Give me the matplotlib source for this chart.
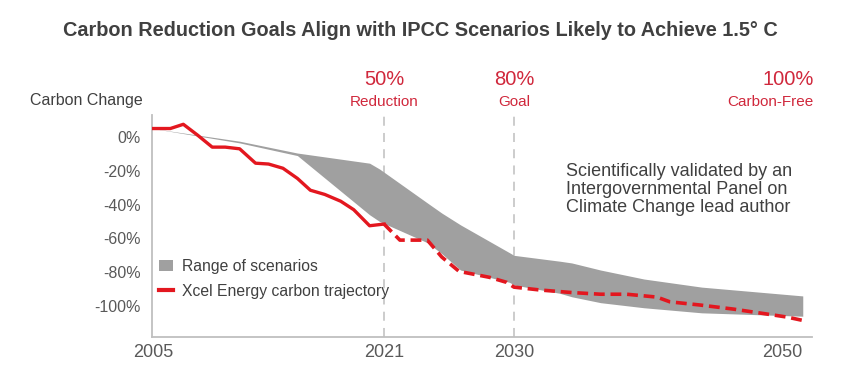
import numpy as np
import matplotlib.pyplot as plt
from matplotlib.patches import Patch
from matplotlib.lines import Line2D

plt.rcParams['font.family'] = ['Liberation Sans', 'DejaVu Sans']

# Xcel trajectory, actuals (solid) then plan (dashed), % change vs 2005
hist_years = [2005, 2006.2, 2007.1, 2008.1, 2009.1, 2010, 2011, 2012.1, 2013, 2014,
              2015, 2015.9, 2016.9, 2018, 2018.9, 2020, 2021]
hist_vals = [5, 5, 7.5, 1, -6, -6, -7, -15.5, -16, -18.5,
             -24.5, -31.5, -34, -38, -43, -52.5, -51.5]
plan_years = [2021, 2022.1, 2024, 2025, 2026.2, 2028.3, 2029.5, 2030, 2031.8, 2034,
              2036, 2037.8, 2039.9, 2040.8, 2042.9, 2045.2, 2047.5, 2048.9, 2050]
plan_vals = [-51.5, -61, -61, -71, -79.5, -83, -86, -88.8, -90.5, -92,
             -93, -93, -94.7, -97.5, -99.4, -101.8, -104.7, -106.5, -108.5]

# IPCC scenario range
band_years = [2005, 2011, 2015, 2020, 2020.7, 2024, 2025, 2026.3, 2029.7, 2030, 2033.2,
              2034, 2036, 2039, 2043, 2050]
band_upper = [5, -2.5, -9.5, -15.5, -19, -39, -45, -52, -68.5, -70, -73.5,
              -74.5, -78.7, -84, -88.8, -94]
band_lower = [5, -3.5, -11, -46, -50, -62.5, -69, -78.7, -86, -87.5, -92.5,
              -94.5, -98, -101, -104, -106]

ytick_vals = [0, -20, -40, -60, -80, -100]
xtick_vals = [2005, 2021, 2030, 2050]
milestones = [(2021, '50%', 'Reduction'), (2030, '80%', 'Goal'), (2050, '100%', 'Carbon-Free')]

red = '#e3171f'
label_red = '#d0283c'
band_gray = '#a0a0a0'
text_gray = '#595959'
dark = '#404040'

fig = plt.figure(figsize=(8.41, 3.89), dpi=100)
ax = fig.add_axes([152 / 841, 52 / 389, 660 / 841, 222 / 389])

ax.fill_between(band_years, band_upper, band_lower, color=band_gray, lw=0, zorder=1)
ax.plot(hist_years, hist_vals, color=red, lw=2.4, zorder=3)
ax.plot(plan_years, plan_vals, color=red, lw=2.6, ls=(0, (3, 1.6)), zorder=3)

for yr in [2021, 2030]:
    ax.axvline(yr, color='#c8c8c8', lw=1.3, ls=(0, (5, 4)), zorder=0)

ax.set_xlim(2004.93, 2050.64)
ax.set_ylim(-118.3, 13)

for s in ['top', 'right']:
    ax.spines[s].set_visible(False)
for s in ['left', 'bottom']:
    ax.spines[s].set_color('#bfbfbf')
    ax.spines[s].set_linewidth(1.3)

ax.set_yticks(ytick_vals)
ax.set_yticklabels([f'{v}%' for v in ytick_vals])
ax.set_xticks(xtick_vals)
ax.set_xticklabels([str(v) for v in xtick_vals])
ax.tick_params(length=0, labelcolor=text_gray)
ax.tick_params(axis='y', pad=8, labelsize=11.5)
ax.tick_params(axis='x', pad=5, labelsize=13)
ax.get_xticklabels()[-1].set_ha('right')
ax.get_xticklabels()[-1].set_x(2050.3)

fig.text(143 / 841, 1 - 101 / 389, 'Carbon Change', fontsize=11.5, color=dark,
         ha='right', va='center')

for yr, pct, word in milestones:
    ha = 'right' if yr == 2050 else 'center'
    x = 2050.75 if yr == 2050 else yr
    ax.text(x, 1.158, pct, transform=ax.get_xaxis_transform(), ha=ha, va='center',
            fontsize=14.5, color=label_red, clip_on=False)
    ax.text(x, 1.059, word, transform=ax.get_xaxis_transform(), ha=ha, va='center',
            fontsize=11, color=label_red, clip_on=False)

ax.text(2033.6, -31, 'Scientifically validated by an\nIntergovernmental Panel on\nClimate Change lead author',
        fontsize=13, color=dark, ha='left', va='center', linespacing=1.1)

handles = [Patch(facecolor=band_gray, edgecolor='none'),
           Line2D([0], [0], color=red, lw=3)]
ax.legend(handles, ['Range of scenarios', 'Xcel Energy carbon trajectory'],
          loc='upper left', bbox_to_anchor=(0.01, 0.35), frameon=False,
          borderaxespad=0, borderpad=0,
          fontsize=11.3, handlelength=0.9, handletextpad=0.6, labelspacing=0.6,
          labelcolor=dark)

fig.text(420 / 841, 1 - 31 / 389,
         'Carbon Reduction Goals Align with IPCC Scenarios Likely to Achieve 1.5\u00b0 C',
         fontsize=14.3, fontweight='bold', color=dark, ha='center', va='center')

fig.savefig('out.png', dpi=100)
